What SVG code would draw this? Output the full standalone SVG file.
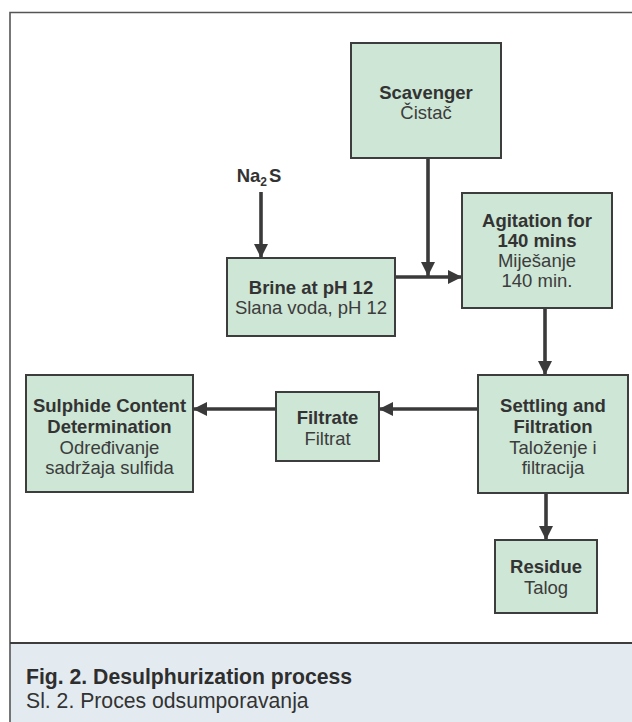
<svg xmlns="http://www.w3.org/2000/svg" width="632" height="722" viewBox="0 0 632 722">
  <style>
    .box { fill: #cde6d5; stroke: #3d3d3d; stroke-width: 2; }
    .t { font-family: "Liberation Sans", Arial, sans-serif; font-size: 18.5px; text-anchor: middle; }
    .b { font-weight: bold; fill: #333333; }
    .r { fill: #3c3c3c; }
    .conn { stroke: #3a3a3a; stroke-width: 3.6; fill: none; }
    .cap { font-family: "Liberation Sans", Arial, sans-serif; font-size: 21.2px; }
  </style>
  <defs>
    <marker id="ah" markerUnits="userSpaceOnUse" markerWidth="14" markerHeight="14" refX="14" refY="7" orient="auto">
      <path d="M0,0 L14,7 L0,14 z" fill="#3a3a3a"/>
    </marker>
  </defs>

  <rect x="0" y="0" width="632" height="722" fill="#ffffff"/>
  <rect x="10" y="644" width="622" height="78" fill="#e3ebf1"/>
  <path d="M10,722 V12.5 H632" fill="none" stroke="#555555" stroke-width="1.6"/>
  <line x1="10" y1="643" x2="632" y2="643" stroke="#3d3d3d" stroke-width="2.2"/>

  <g id="connectors">
    <line class="conn" x1="261" y1="192" x2="261" y2="258" marker-end="url(#ah)"/>
    <line class="conn" x1="428" y1="158" x2="428" y2="276" marker-end="url(#ah)"/>
    <line class="conn" x1="395" y1="277" x2="462" y2="277" marker-end="url(#ah)"/>
    <line class="conn" x1="545" y1="308" x2="545" y2="375" marker-end="url(#ah)"/>
    <line class="conn" x1="478" y1="409" x2="379" y2="409" marker-end="url(#ah)"/>
    <line class="conn" x1="276" y1="409" x2="193" y2="409" marker-end="url(#ah)"/>
    <line class="conn" x1="546" y1="493" x2="546" y2="540" marker-end="url(#ah)"/>
  </g>

  <g id="na2s">
    <text class="t b" x="259" y="182">Na<tspan font-size="12" dy="4">2</tspan><tspan dy="-4" dx="2">S</tspan></text>
  </g>

  <g id="scavenger">
    <rect class="box" x="351" y="43" width="150" height="115"/>
    <text class="t b" x="426" y="99">Scavenger</text>
    <text class="t r" x="426" y="119">Čistač</text>
  </g>

  <g id="brine">
    <rect class="box" x="227" y="258" width="168" height="78"/>
    <text class="t b" x="311" y="294">Brine at pH 12</text>
    <text class="t r" x="311" y="314">Slana voda, pH 12</text>
  </g>

  <g id="agitation">
    <rect class="box" x="462" y="193" width="150" height="115"/>
    <text class="t b" x="537" y="227">Agitation for</text>
    <text class="t b" x="537" y="247">140 mins</text>
    <text class="t r" x="537" y="267">Miješanje</text>
    <text class="t r" x="537" y="287">140 min.</text>
  </g>

  <g id="settling">
    <rect class="box" x="478" y="375" width="150" height="118"/>
    <text class="t b" x="553" y="412">Settling and</text>
    <text class="t b" x="553" y="433">Filtration</text>
    <text class="t r" x="553" y="454">Taloženje i</text>
    <text class="t r" x="553" y="474">filtracija</text>
  </g>

  <g id="filtrate">
    <rect class="box" x="276" y="392" width="103" height="69"/>
    <text class="t b" x="327.5" y="424">Filtrate</text>
    <text class="t r" x="327.5" y="445">Filtrat</text>
  </g>

  <g id="sulphide">
    <rect class="box" x="26" y="375" width="167" height="117"/>
    <text class="t b" x="109.5" y="412">Sulphide Content</text>
    <text class="t b" x="109.5" y="433">Determination</text>
    <text class="t r" x="109.5" y="454">Određivanje</text>
    <text class="t r" x="109.5" y="474">sadržaja sulfida</text>
  </g>

  <g id="residue">
    <rect class="box" x="495" y="540" width="102" height="73"/>
    <text class="t b" x="546" y="573">Residue</text>
    <text class="t r" x="546" y="594">Talog</text>
  </g>

  <g id="caption">
    <text class="cap" x="26" y="684" font-weight="bold" fill="#2e2e2e">Fig. 2. Desulphurization process</text>
    <text class="cap" x="26" y="708" fill="#333333">Sl. 2. Proces odsumporavanja</text>
  </g>
</svg>
